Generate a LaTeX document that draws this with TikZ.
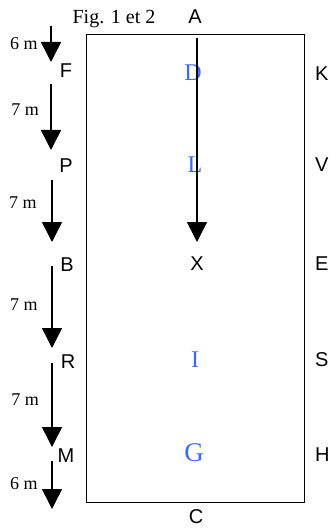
\documentclass[tikz,border=0pt]{standalone}
\usepackage{fontspec}
\setmainfont{Liberation Serif}
\setsansfont{Liberation Sans}
\usetikzlibrary{arrows.meta}
\definecolor{figblue}{RGB}{60,105,245}
\begin{document}
\begin{tikzpicture}[x=1pt,y=-1pt,
  lab/.style={font=\sffamily\fontsize{20}{20}\selectfont, inner sep=0pt},
  dist/.style={font=\fontsize{18}{18}\selectfont, inner sep=0pt},
  blu/.style={font=\fontsize{24}{24}\selectfont, text=figblue, inner sep=0pt},
  arr/.style={line width=1.5pt, -{Triangle[length=20pt,width=20pt]}}]
\useasboundingbox (0,0) rectangle (329,529);
\draw[line width=0.8pt] (86,34) rectangle (304,502);
% caption
\node[font=\fontsize{20}{20}\selectfont, inner sep=0pt, anchor=base] (fig) at (114,24) {Fig. 1 et 2};
% left labels
\node[lab] (F) at (66,71) {F};
\node[lab] (P) at (66,166) {P};
\node[lab] (B) at (67,265) {B};
\node[lab] (R) at (68,362) {R};
\node[lab] (M) at (66,456) {M};
% distances
\node[dist] (d1) at (24,44) {6 m};
\node[dist] (d2) at (25,110) {7 m};
\node[dist] (d3) at (23,203) {7 m};
\node[dist] (d4) at (24,305) {7 m};
\node[dist] (d5) at (25,400) {7 m};
\node[dist] (d6) at (24,484) {6 m};
% left arrows
\coordinate (a1s) at (51,26);  \coordinate (a1e) at (51,62);
\coordinate (a2s) at (51,84);  \coordinate (a2e) at (51,150);
\coordinate (a3s) at (52,180); \coordinate (a3e) at (52,242);
\coordinate (a4s) at (52,266); \coordinate (a4e) at (52,348);
\coordinate (a5s) at (52,363); \coordinate (a5e) at (52,447);
\coordinate (a6s) at (52,461); \coordinate (a6e) at (52,509);
\draw[arr] (a1s) -- (a1e);
\draw[arr] (a2s) -- (a2e);
\draw[arr] (a3s) -- (a3e);
\draw[arr] (a4s) -- (a4e);
\draw[arr] (a5s) -- (a5e);
\draw[arr] (a6s) -- (a6e);
% top / bottom
\node[lab] (A) at (195,17) {A};
\node[lab] (C) at (196,517) {C};
\node[lab] (X) at (197,264) {X};
% blue letters
\node[blu] (D) at (193,73) {D};
\node[blu] (L) at (195,165) {L};
\node[blu] (I) at (195,360) {I};
\node[blu, font=\fontsize{27}{27}\selectfont] (G) at (194,453) {G};
% central arrow
\coordinate (cs) at (197,38); \coordinate (ce) at (197,242);
\draw[arr] (cs) -- (ce);
% right labels
\node[lab, anchor=west] (K) at (315,74) {K};
\node[lab, anchor=west] (V) at (315,165) {V};
\node[lab, anchor=west] (E) at (315,264) {E};
\node[lab, anchor=west] (S) at (315,360) {S};
\node[lab, anchor=west] (H) at (315,455) {H};
\end{tikzpicture}
\end{document}
